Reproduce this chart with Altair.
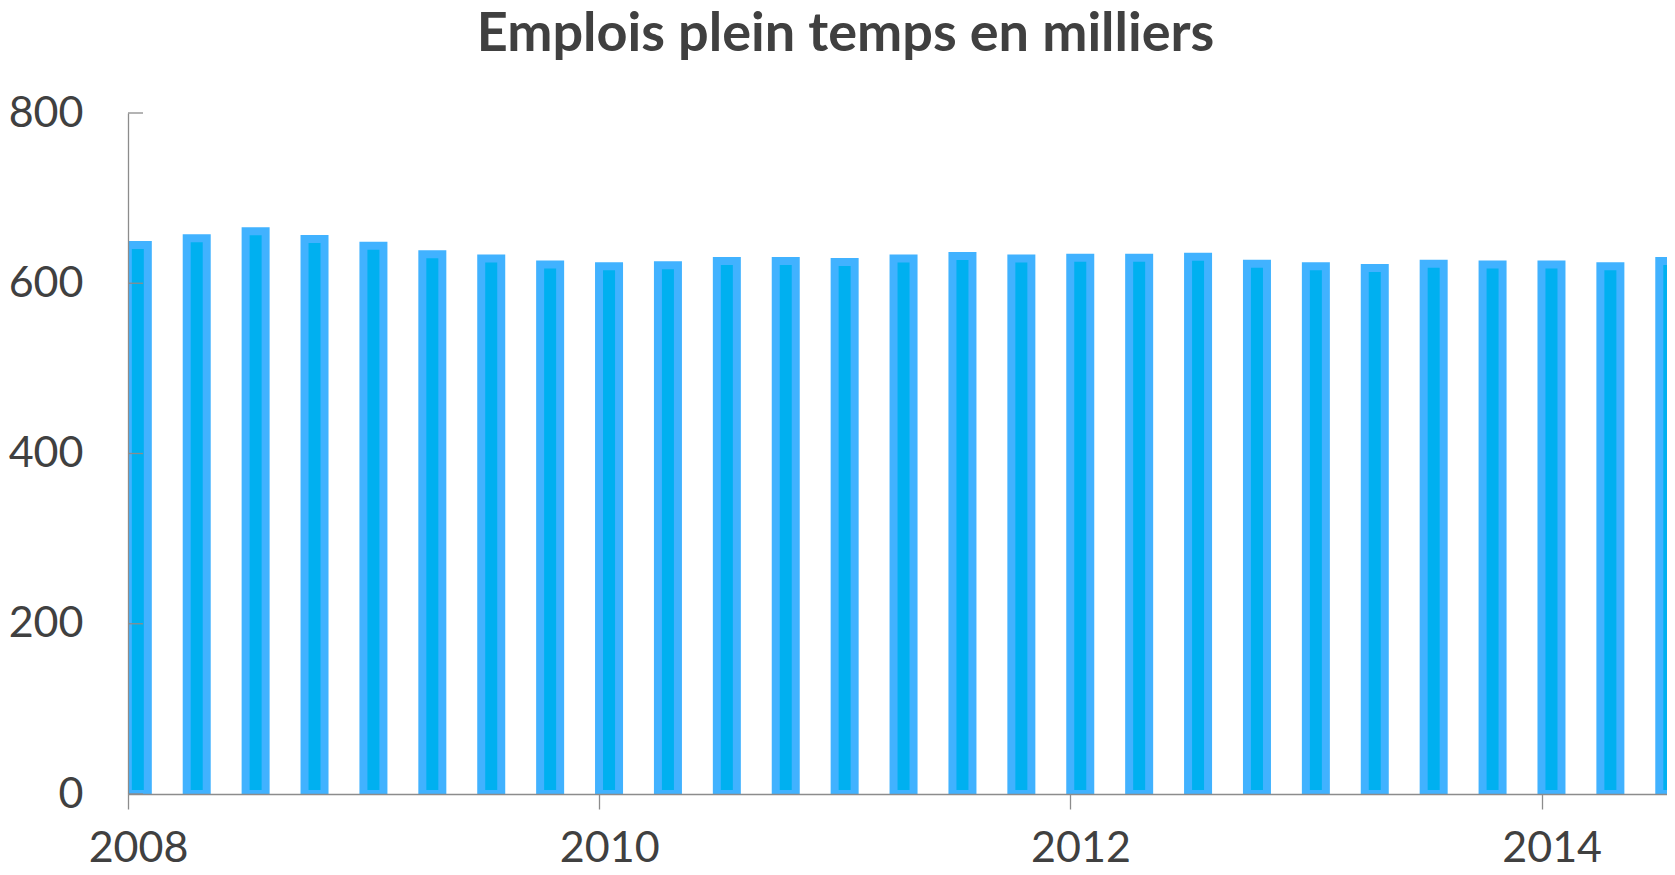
import altair as alt
import pandas as pd

# Données (emplois plein temps, en milliers, par trimestre)
periodes = [
    "2008-T1", "2008-T2", "2008-T3", "2008-T4",
    "2009-T1", "2009-T2", "2009-T3", "2009-T4",
    "2010-T1", "2010-T2", "2010-T3", "2010-T4",
    "2011-T1", "2011-T2", "2011-T3", "2011-T4",
    "2012-T1", "2012-T2", "2012-T3", "2012-T4",
    "2013-T1", "2013-T2", "2013-T3", "2013-T4",
    "2014-T1", "2014-T2", "2014-T3",
]
emplois = [
    645, 653, 661, 652,
    644, 634, 629, 622,
    620, 621, 626, 626,
    625, 629, 632, 629,
    630, 630, 631, 623,
    620, 618, 623, 622,
    622, 620, 626,
]
graduations_y = [0, 200, 400, 600, 800]
graduations_x = [2008, 2010, 2012, 2014]

annee = [int(p.split("-T")[0]) for p in periodes]
trim = [int(p.split("-T")[1]) for p in periodes]
df = pd.DataFrame({"periode": periodes, "annee": annee, "trim": trim, "emplois": emplois})
# position : milieu du premier mois du trimestre (axe de dates en mois)
df["t"] = df["annee"] + (df["trim"] - 1) / 4 + 1 / 24

ticks_df = pd.DataFrame({"v": graduations_y})

GRIS = "#8C8C8C"
TEXTE = "#404040"
FONT = "Lato"
BORD = "#41B2FF"
REMPLI = "#00B0F0"

x_scale = alt.Scale(domain=[2008, 2014.532], nice=False, zero=False, padding=0)
y_scale = alt.Scale(domain=[0, 800], nice=False)

x_enc = alt.X("t:Q", scale=x_scale, title=None,
              axis=alt.Axis(values=graduations_x, format="d", labelFont=FONT, labelFontSize=43,
                            labelColor=TEXTE, labelOffset=10, labelBaseline="alphabetic",
                            labelPadding=52, tickSize=15, tickColor=GRIS, tickWidth=1.3,
                            domainColor=GRIS, domainWidth=1.3, grid=False, labelFlush=False,
                            labelOverlap=False, zindex=1))
y_enc = alt.Y("emplois:Q", scale=y_scale, title=None,
              axis=alt.Axis(values=graduations_y, format="d", labelFont=FONT, labelFontSize=43,
                            labelColor=TEXTE, labelPadding=45, ticks=False, tickSize=0,
                            domainColor=GRIS, domainWidth=1.3, grid=False, zindex=1))

# contour clair (bordure) de chaque barre
outer = alt.Chart(df).mark_bar(
    size=28, yOffset=-4, y2Offset=2, clip=True
).encode(x=x_enc, y=y_enc, y2=alt.datum(0), color=alt.value(BORD))

# remplissage intérieur plus foncé
inner = alt.Chart(df).mark_bar(
    size=12, yOffset=4, y2Offset=-4, clip=True
).encode(x=alt.X("t:Q", scale=x_scale), y=alt.Y("emplois:Q", scale=y_scale),
         y2=alt.datum(0), color=alt.value(REMPLI))

inner_ticks = alt.Chart(ticks_df).mark_rule(color=GRIS, strokeWidth=1.3).encode(
    y=alt.Y("v:Q", scale=y_scale),
    x=alt.value(0),
    x2=alt.value(15),
)

chart = alt.layer(outer, inner, inner_ticks).properties(
    width=1539,
    height=681,
    autosize=alt.AutoSizeParams(type="none"),
    padding={"left": 120, "top": 105, "right": 0, "bottom": 73},
    title=alt.TitleParams(
        "Emplois plein temps en milliers",
        font=FONT, fontSize=54, fontWeight="bold", color=TEXTE,
        anchor="middle", baseline="alphabetic", offset=39, dy=52, dx=-52,
    ),
).configure_view(stroke=None)

chart.save("out.html", embed_options={"renderer": "svg", "actions": False})
